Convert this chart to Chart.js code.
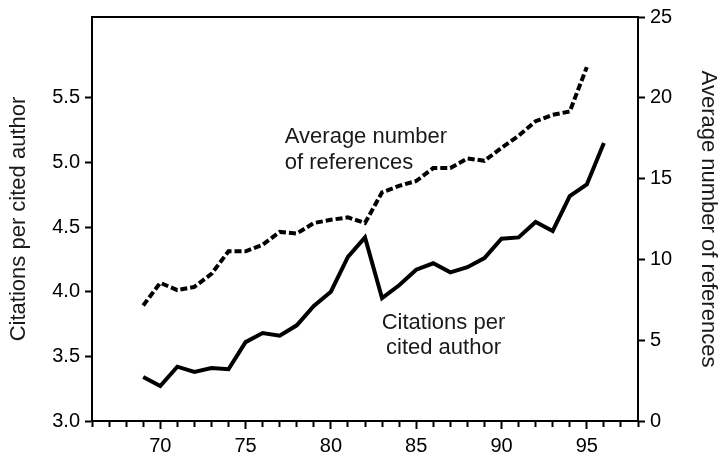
<!DOCTYPE html>
<html>
<head>
<meta charset="utf-8">
<script src="https://cdn.jsdelivr.net/npm/chart.js@4/dist/chart.umd.min.js"></script>
<style>
html,body{margin:0;padding:0;background:#fff;}
#wrap{width:726px;height:456px;position:relative;}
</style>
</head>
<body>
<div id="wrap"><canvas id="c"></canvas></div>
<script>
// ---- data ----
const citeYears = [69,70,71,72,73,74,75,76,77,78,79,80,81,82,83,84,85,86,87,88,89,90,91,92,93,94,95,96];
const citationsPerAuthor = [3.34,3.27,3.42,3.38,3.41,3.40,3.61,3.68,3.66,3.74,3.89,4.00,4.27,4.42,3.95,4.05,4.17,4.22,4.15,4.19,4.26,4.41,4.42,4.54,4.47,4.74,4.83,5.15];
const refYears = [69,70,71,72,73,74,75,76,77,78,79,80,81,82,83,84,85,86,87,88,89,90,91,92,93,94,95];
const avgReferences = [7.15,8.55,8.1,8.3,9.1,10.5,10.5,10.9,11.7,11.6,12.25,12.45,12.6,12.25,14.15,14.55,14.85,15.65,15.65,16.25,16.1,16.9,17.65,18.55,18.95,19.15,21.9];
const leftTitle = "Citations per cited author";
const rightTitle = "Average number of references";
const noteRefs = ["Average number", "of references"];
const noteCites = ["Citations per", "cited author"];

Chart.defaults.font.family = '"Liberation Sans", Arial, sans-serif';
Chart.defaults.color = '#000';

const notes = {
  id: 'notes',
  afterDatasetsDraw(chart) {
    const ctx = chart.ctx, xs = chart.scales.x, yr = chart.scales.y2;
    ctx.save();
    ctx.fillStyle = '#1a1a1a';
    ctx.font = '22px "Liberation Sans", Arial, sans-serif';
    ctx.textBaseline = 'alphabetic';
    ctx.textAlign = 'left';
    ctx.fillText(noteRefs[0], xs.getPixelForValue(77.3), yr.getPixelForValue(17.2));
    ctx.fillText(noteRefs[1], xs.getPixelForValue(77.3), yr.getPixelForValue(15.6));
    ctx.textAlign = 'center';
    ctx.fillText(noteCites[0], xs.getPixelForValue(86.6), yr.getPixelForValue(5.7));
    ctx.fillText(noteCites[1], xs.getPixelForValue(86.6), yr.getPixelForValue(4.15));
    ctx.restore();
  }
};

new Chart(document.getElementById('c'), {
  type: 'line',
  data: {
    datasets: [
      {
        label: 'Citations per cited author',
        data: citeYears.map((x, i) => ({x, y: citationsPerAuthor[i]})),
        yAxisID: 'y', xAxisID: 'x',
        borderColor: '#000', borderWidth: 4, pointRadius: 0, tension: 0, fill: false
      },
      {
        label: 'Average number of references',
        data: refYears.map((x, i) => ({x, y: avgReferences[i]})),
        yAxisID: 'y2', xAxisID: 'x',
        borderColor: '#000', borderWidth: 4, borderDash: [7, 3], pointRadius: 0, tension: 0, fill: false
      }
    ]
  },
  options: {
    responsive: true, maintainAspectRatio: false, animation: false,
    layout: {padding: 0},
    plugins: {legend: {display: false}, tooltip: {enabled: false}},
    scales: {
      x: {
        type: 'linear', position: 'bottom', min: 66, max: 98,
        afterFit(s) { s.height = 35; },
        ticks: {stepSize: 1, autoSkip: false, maxRotation: 0, padding: 5,
          font: {size: 20}, color: '#000',
          callback: v => (v % 5 === 0 ? String(v) : '')},
        grid: {drawOnChartArea: false, drawTicks: true, tickLength: 8, tickWidth: 2, tickColor: '#000',
          tickBorderDash: c => (c.tick && c.tick.value % 5 === 0 ? [] : [5, 30])},
        border: {display: true, color: '#000', width: 2}
      },
      xTop: {
        type: 'linear', position: 'top', min: 66, max: 98,
        afterFit(s) { s.height = 15; },
        ticks: {display: false},
        grid: {display: false},
        border: {display: true, color: '#000', width: 2}
      },
      y: {
        type: 'linear', position: 'left', min: 3, max: 6.125,
        afterFit(s) { s.width = 92; },
        afterBuildTicks(s) { s.ticks = s.ticks.filter(t => t.value <= 5.5 + 1e-9); },
        ticks: {stepSize: 0.5, padding: 5, font: {size: 20}, color: '#000',
          callback: v => Number(v).toFixed(1)},
        grid: {drawOnChartArea: false, tickLength: 7, tickWidth: 2, tickColor: '#000'},
        border: {display: true, color: '#000', width: 2},
        title: {display: true, text: leftTitle, font: {size: 22}, color: '#1a1a1a', padding: {top: 6, bottom: 0}}
      },
      y2: {
        type: 'linear', position: 'right', min: 0, max: 25,
        afterFit(s) { s.width = 88; },
        ticks: {stepSize: 5, padding: 5, font: {size: 20}, color: '#000'},
        grid: {drawOnChartArea: false, tickLength: 7, tickWidth: 2, tickColor: '#000'},
        border: {display: true, color: '#000', width: 2},
        title: {display: true, text: rightTitle, font: {size: 22}, color: '#1a1a1a', padding: {top: 5, bottom: 0}}
      }
    }
  },
  plugins: [notes]
});
</script>
</body>
</html>
